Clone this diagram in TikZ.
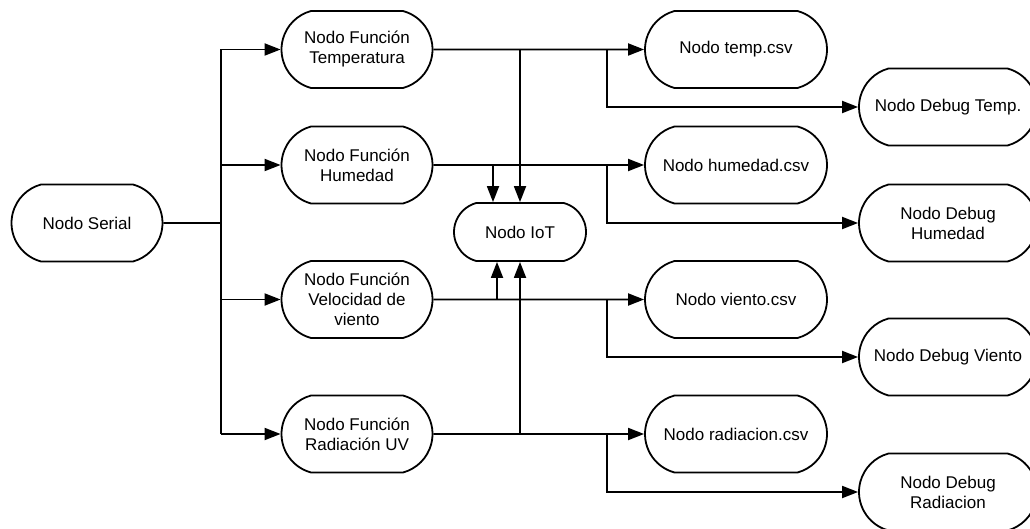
\documentclass[tikz,border=0pt]{standalone}
\usepackage{fontspec}
\setmainfont{Liberation Sans}
\usetikzlibrary{arrows.meta,shapes.misc}
\begin{document}
\begin{tikzpicture}[x=1pt,y=-1pt,
  pill/.style={draw, line width=1.8pt, rounded rectangle, rounded rectangle arc length=150,
    align=center, font=\fontsize{17}{20}\selectfont, minimum height=77pt, inner sep=2pt},
  link/.style={line width=1.8pt},
  arr/.style={link, -{Triangle[length=16pt,width=12pt]}}]
\clip (0,0) rectangle (1030,529);

% source
\node[pill, minimum width=155pt] (serial) at (87,223) {Nodo Serial};

% processing functions
\node[pill, minimum width=155pt] (ftemp) at (357,49.5) {Nodo Función\\Temperatura};
\node[pill, minimum width=155pt] (fhum)  at (357,165) {Nodo Función\\Humedad};
\node[pill, minimum width=155pt] (fvel)  at (357,299.5) {Nodo Función\\Velocidad de\\viento};
\node[pill, minimum width=155pt] (frad)  at (357,434) {Nodo Función\\Radiación UV};

% IoT sink
\node[pill, minimum width=136pt, minimum height=58pt] (iot) at (520,232) {Nodo IoT};

% csv files
\node[pill, minimum width=186pt] (ctemp) at (736,49.5) {Nodo temp.csv};
\node[pill, minimum width=186pt] (chum)  at (736,165) {Nodo humedad.csv};
\node[pill, minimum width=186pt] (cvel)  at (736,299.5) {Nodo viento.csv};
\node[pill, minimum width=186pt] (crad)  at (736,434) {Nodo radiacion.csv};

% debug outputs
\node[pill, minimum width=182pt] (dtemp) at (948,107) {Nodo Debug Temp.};
\node[pill, minimum width=182pt] (dhum)  at (948,223) {Nodo Debug\\Humedad};
\node[pill, minimum width=182pt] (dvel)  at (948,357) {Nodo Debug Viento};
\node[pill, minimum width=182pt] (drad)  at (948,492) {Nodo Debug\\Radiacion};

% distribution bus from the serial node
\coordinate (busT) at (221,49.5);
\coordinate (busM) at (221,223);
\coordinate (busB) at (221,434);
\draw[link] (serial) -- (busM);
\draw[link] (busT) -- (busB);
\draw[arr] (busT) -- (ftemp);
\draw[arr] (fhum -| busM) -- (fhum);
\draw[arr] (fvel -| busM) -- (fvel);
\draw[arr] (busB) -- (frad);

% function outputs to csv files
\draw[arr] (ftemp) -- (ctemp);
\draw[arr] (fhum) -- (chum);
\draw[arr] (fvel) -- (cvel);
\draw[arr] (frad) -- (crad);

% branches to debug nodes
\coordinate (bt) at (607,49.5);
\coordinate (bh) at (607,165);
\coordinate (bv) at (607,299.5);
\coordinate (br) at (607,434);
\draw[arr] (bt) |- (dtemp);
\draw[arr] (bh) |- (dhum);
\draw[arr] (bv) |- (dvel);
\draw[arr] (br) |- (drad);

% feeds into the IoT node
\coordinate (it) at (520,49.5);
\coordinate (ih) at (493,165);
\coordinate (iv) at (497,299.5);
\coordinate (ir) at (520,434);
\draw[arr] (it) -- (it |- iot.north);
\draw[arr] (ih) -- (ih |- iot.north);
\draw[arr] (iv) -- (iv |- iot.south);
\draw[arr] (ir) -- (ir |- iot.south);
\end{tikzpicture}
\end{document}
